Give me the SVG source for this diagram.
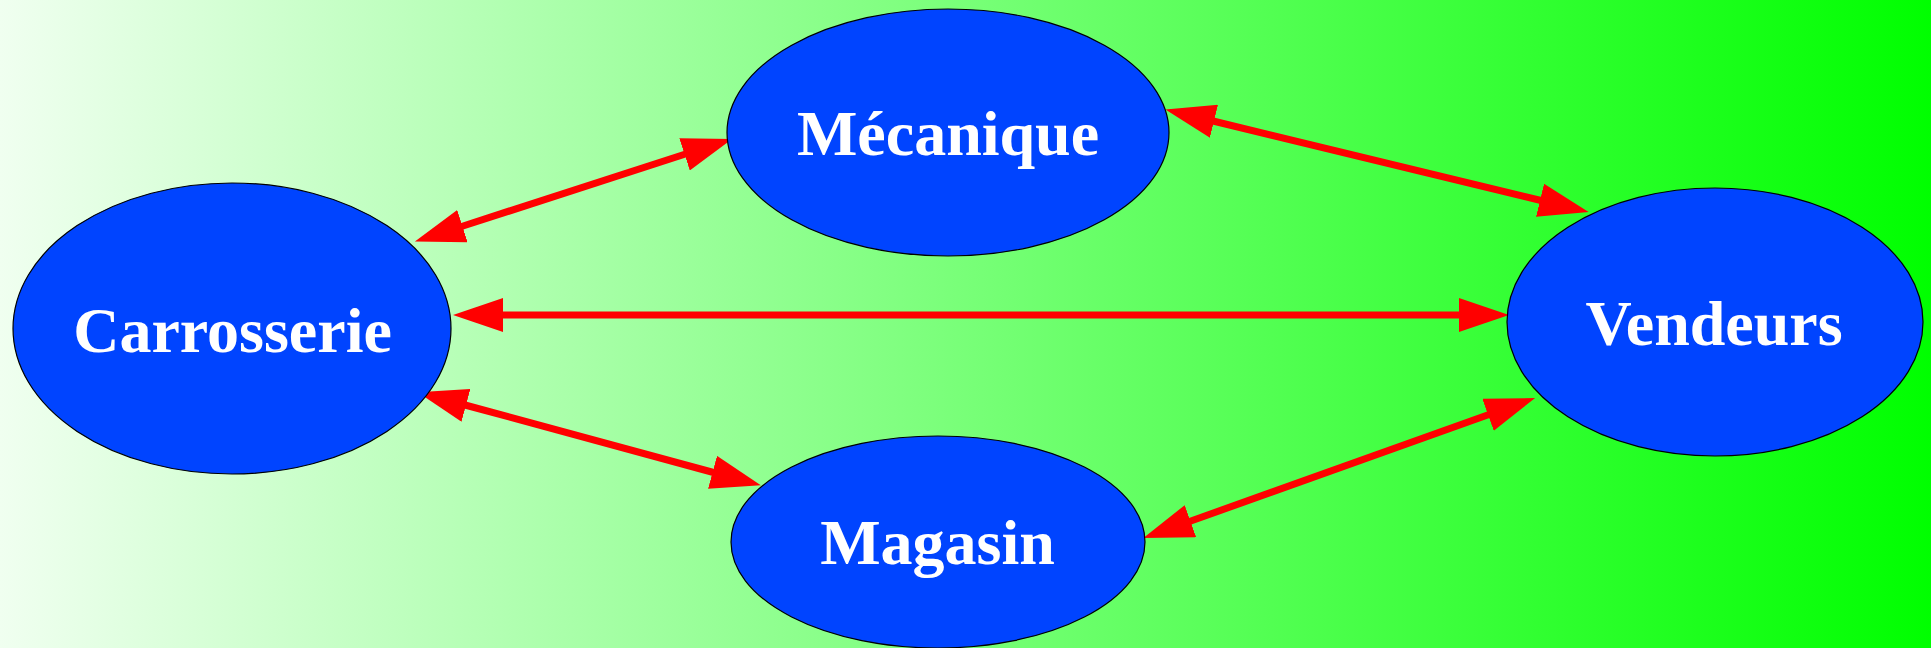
<svg xmlns="http://www.w3.org/2000/svg" width="1931" height="648" viewBox="0 0 1931 648">
  <defs>
    <linearGradient id="bg" x1="0" y1="0" x2="1" y2="0">
      <stop offset="0" stop-color="#F0FFF0"/>
      <stop offset="1" stop-color="#00FF00"/>
    </linearGradient>
    <marker id="ah" viewBox="0 0 50 34" refX="1" refY="17" markerWidth="50" markerHeight="34" markerUnits="userSpaceOnUse" orient="auto-start-reverse">
      <path d="M0,0 L50,17 L0,34 z" fill="#FF0000"/>
    </marker>
    <style>
      .node ellipse { fill: #0044FF; stroke: #000000; stroke-width: 1.2; }
      .node text { fill: #FFFFFF; font-family: "Liberation Serif", "Times New Roman", serif; font-weight: bold; font-size: 64px; text-anchor: middle; }
      .edge { fill: none; stroke: #FF0000; stroke-width: 7; marker-start: url(#ah); marker-end: url(#ah); }
    </style>
  </defs>
  <rect x="0" y="0" width="1931" height="648" fill="url(#bg)"/>
  <g id="edges">
    <path class="edge" d="M461.5,226.5 L685.5,154"/>
    <path class="edge" d="M1213,121 L1541,200.5"/>
    <path class="edge" d="M502,315 L1460,315"/>
    <path class="edge" d="M465,405 L713.5,472.5"/>
    <path class="edge" d="M1189.5,521.5 L1489,414.5"/>
  </g>
  <g id="node-mecanique" class="node">
    <ellipse cx="948" cy="132.5" rx="221" ry="123.5"/>
    <text x="948" y="155">Mécanique</text>
  </g>
  <g id="node-carrosserie" class="node">
    <ellipse cx="232" cy="328.5" rx="219" ry="145.5"/>
    <text x="232.5" y="352">Carrosserie</text>
  </g>
  <g id="node-vendeurs" class="node">
    <ellipse cx="1715" cy="322" rx="208" ry="134"/>
    <text x="1714" y="345">Vendeurs</text>
  </g>
  <g id="node-magasin" class="node">
    <ellipse cx="938" cy="542" rx="207" ry="106"/>
    <text x="937.5" y="564">Magasin</text>
  </g>
</svg>
